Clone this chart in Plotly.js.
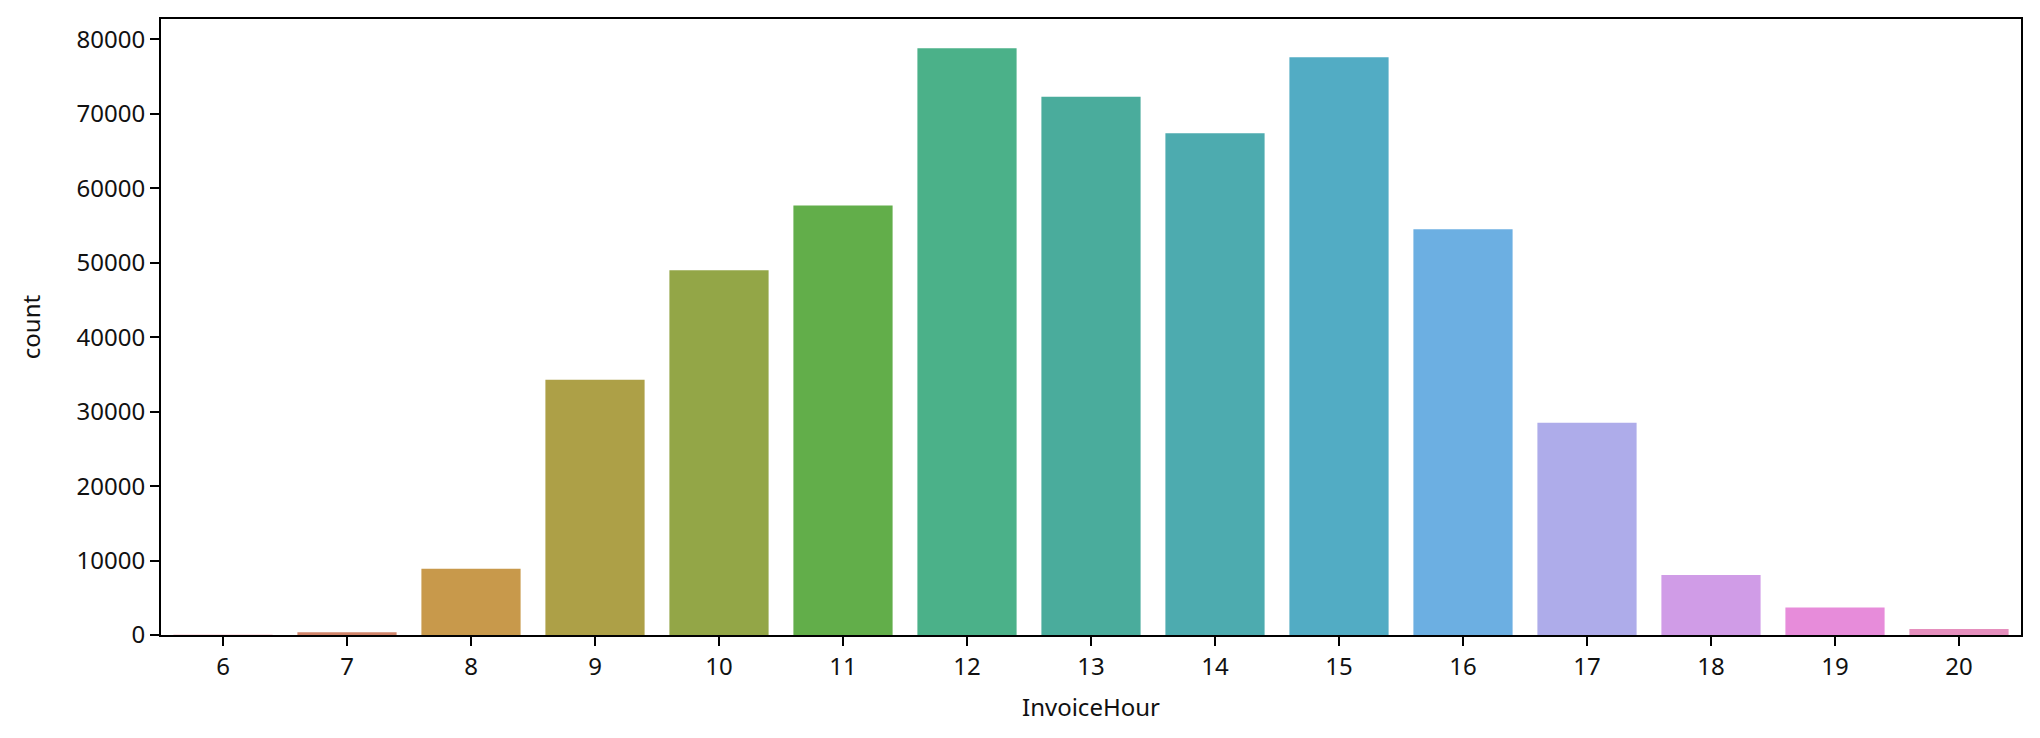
<!DOCTYPE html>
<html>
<head>
<meta charset="utf-8">
<script src="https://cdn.plot.ly/plotly-3.0.1.min.js"></script>
<style>html,body{margin:0;padding:0;background:#fff;}#chart{width:2040px;height:738px;}</style>
</head>
<body>
<div id="chart"></div>
<script>
// Data
const hours = ["6","7","8","9","10","11","12","13","14","15","16","17","18","19","20"];
const counts = [41, 383, 8900, 34300, 49000, 57700, 78800, 72300, 67400, 77600, 54500, 28500, 8050, 3700, 800];
const barColors = ["#E68294","#D0846A","#C8994B","#ADA047","#93A647","#62AE4A","#4BB189","#4AAC9C","#4DABAF","#52ACC4","#6CAFE2","#AEACEA","#D09CE7","#E78CDA","#E58FBD"];

const fontFam = "Noto Sans, Open Sans, DejaVu Sans, sans-serif";
const trace = {
  type: "bar",
  x: hours,
  y: counts,
  marker: {color: barColors, line: {width: 0}},
  hoverinfo: "x+y"
};
const ymax = Math.max(...counts) * 1.05;
const layout = {
  width: 2040, height: 738,
  margin: {l: 161, r: 19, t: 19, b: 103, pad: 0},
  paper_bgcolor: "#fff", plot_bgcolor: "#fff",
  font: {family: fontFam, size: 24, color: "#111"},
  bargap: 0.2,
  showlegend: false,
  xaxis: {
    type: "category",
    range: [-0.5, hours.length - 0.5],
    showline: true, mirror: true, linecolor: "#000", linewidth: 2,
    ticks: "outside", ticklen: 9, tickwidth: 2, tickcolor: "#000",
    showgrid: false, zeroline: false,
    tickfont: {family: fontFam, size: 24, color: "#111"},
    title: {text: "InvoiceHour", font: {family: fontFam, size: 24, color: "#111"}, standoff: 18}
  },
  yaxis: {
    range: [0, ymax],
    dtick: 10000, tick0: 0, tickformat: "d",
    showline: true, mirror: true, linecolor: "#000", linewidth: 2,
    ticks: "outside", ticklen: 9, tickwidth: 2, tickcolor: "#000",
    showgrid: false, zeroline: false,
    tickfont: {family: fontFam, size: 24, color: "#111"},
    title: {text: "count", font: {family: fontFam, size: 24, color: "#111"}, standoff: 29}
  }
};
Plotly.newPlot("chart", [trace], layout, {displayModeBar: false, staticPlot: true});
</script>
</body>
</html>
